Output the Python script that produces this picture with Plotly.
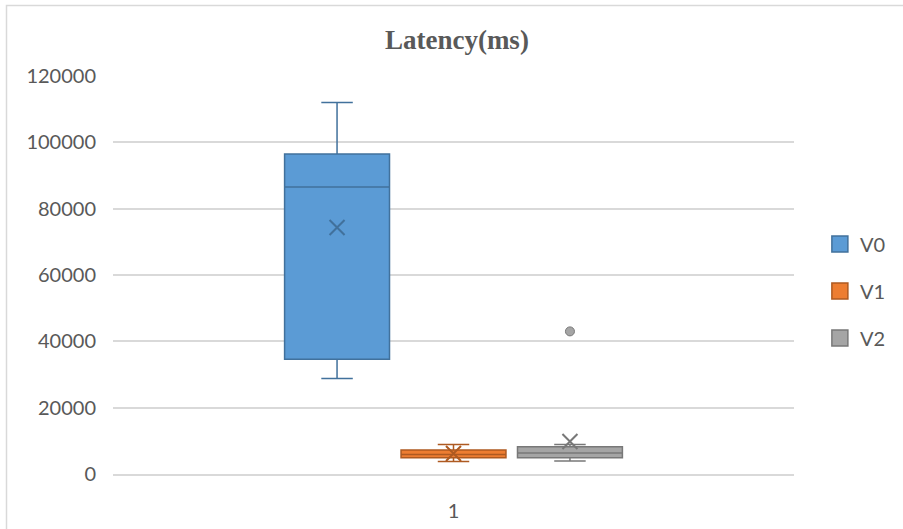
import plotly.graph_objects as go

# Latency distribution (ms) per version, category "1"
categories = ["1"]
series = ["V0", "V1", "V2"]
lower_whisker = [28800, 3800, 3900]
q1 = [34600, 4900, 4900]
median = [86500, 5900, 6300]
q3 = [96500, 7200, 8200]
upper_whisker = [112000, 8900, 8900]
mean = [74300, 6200, 9800]
outliers = [[], [], [43000]]

y_ticks = [0, 20000, 40000, 60000, 80000, 100000, 120000]

fill_colors = ["#5B9BD5", "#ED7D31", "#A5A5A5"]
line_colors = ["#41719C", "#AE5A21", "#787878"]

text_color = "#595959"
grid_color = "#D9D9D9"

fig = go.Figure()

# boxes, grouped side by side in the category
for i, name in enumerate(series):
    fig.add_trace(go.Box(
        x=categories,
        q1=[q1[i]], median=[median[i]], q3=[q3[i]],
        lowerfence=[lower_whisker[i]], upperfence=[upper_whisker[i]],
        offsetgroup=name,
        whiskerwidth=0.3,
        fillcolor=fill_colors[i],
        line=dict(color=line_colors[i], width=1.5),
        boxpoints=False,
        name=name,
        showlegend=False,
        hoverinfo="skip",
    ))

# mean markers and outliers, grouped the same way
for i, name in enumerate(series):
    fig.add_trace(go.Scatter(
        x=categories, y=[mean[i]], mode="markers",
        offsetgroup=name,
        marker=dict(symbol="x-thin", size=15,
                    line=dict(color=line_colors[i], width=2)),
        showlegend=False, hoverinfo="skip",
    ))
    if outliers[i]:
        fig.add_trace(go.Scatter(
            x=categories * len(outliers[i]), y=outliers[i], mode="markers",
            offsetgroup=name,
            marker=dict(symbol="circle", size=9, color=fill_colors[i],
                        line=dict(color=line_colors[i], width=1)),
            showlegend=False, hoverinfo="skip",
        ))

# legend swatches
for i, name in enumerate(series):
    fig.add_trace(go.Scatter(
        x=[None], y=[None], mode="markers", name=name,
        legendgroup=name, offsetgroup=name,
        marker=dict(symbol="square", size=19, color=fill_colors[i],
                    line=dict(color=line_colors[i], width=1.5)),
    ))

fig.update_layout(
    width=903, height=529,
    margin=dict(l=113, r=109, t=76, b=55, autoexpand=False),
    paper_bgcolor="white", plot_bgcolor="white",
    boxmode="group", boxgap=0.487, boxgroupgap=0.099,
    scattermode="group", scattergap=0.487,
    font=dict(family="Lato", size=20, color=text_color),
    title=dict(text="<b>Latency(ms)</b>", x=0.505, xref="paper",
               y=1 - 40 / 529, yanchor="middle", xanchor="center",
               font=dict(family="Liberation Serif", size=27, color=text_color)),
    legend=dict(x=1.038, y=0.46, xanchor="left", yanchor="middle",
                traceorder="grouped", tracegroupgap=18,
                font=dict(family="Lato", size=20, color=text_color),
                bgcolor="rgba(0,0,0,0)"),
    showlegend=True,
    shapes=[dict(type="rect", xref="paper", yref="paper",
                 x0=(6.5 - 113) / 681, x1=(915 - 113) / 681,
                 y0=(474 - 545) / 398, y1=(474 - 5.5) / 398,
                 line=dict(color=grid_color, width=1.5),
                 fillcolor="rgba(0,0,0,0)", layer="below")],
)

fig.update_xaxes(
    type="category", range=[-0.5, 0.5],
    showgrid=False, zeroline=False,
    showline=True, linecolor=grid_color, linewidth=1.5,
    ticks="", ticklabelstandoff=18, automargin=False,
)
fig.update_yaxes(
    range=[0, 120000],
    tickvals=y_ticks, ticktext=[str(v) for v in y_ticks],
    showgrid=True, gridcolor=grid_color, gridwidth=1.5,
    zeroline=False, showline=False, ticks="",
    ticklabelstandoff=16, automargin=False,
)

fig.write_html("out.html")
